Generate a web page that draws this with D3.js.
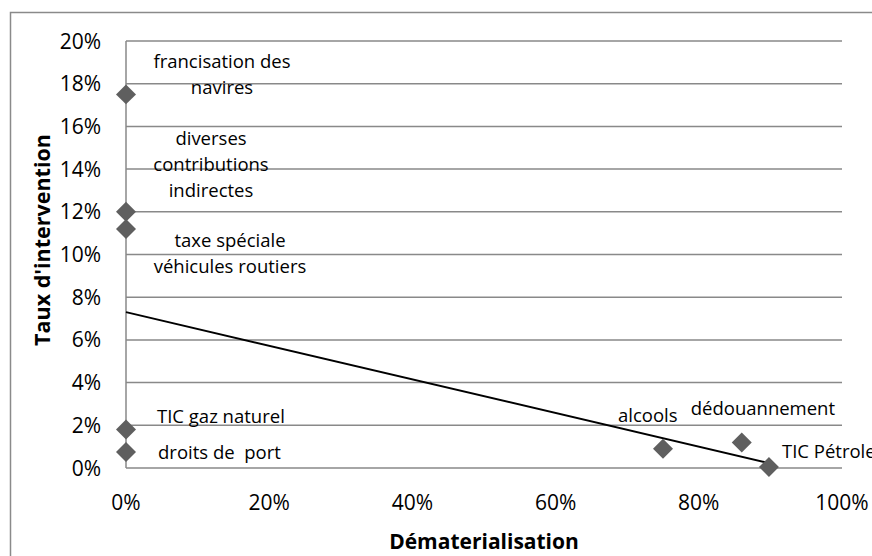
<!DOCTYPE html>
<html>
<head>
<meta charset="utf-8">
<script src="https://cdn.jsdelivr.net/npm/d3@7"></script>
<style>
body{margin:0;background:#fff;}
text{font-family:"Open Sans",sans-serif;fill:#000;white-space:pre;}
</style>
</head>
<body>
<svg id="chart" width="872" height="556"></svg>
<script>
// data
var names=["francisation des|navires","diverses|contributions|indirectes","taxe spéciale|véhicules routiers","TIC gaz naturel","droits de  port","alcools","dédouannement","TIC Pétrole"];
var demat=[0,0,0,0,0,0.75,0.86,0.898];
var taux=[0.175,0.120,0.112,0.018,0.0075,0.009,0.012,0.0005];
var trendX=[0,0.898];
var trendY=[0.073,0.0023];
var xTicks=[0,0.2,0.4,0.6,0.8,1];
var yTicks=[0,0.02,0.04,0.06,0.08,0.1,0.12,0.14,0.16,0.18,0.2];

// label placement (offset from point, anchor)
var labelPos=[
  {dx:96,dy:-26,a:"middle"},
  {dx:85,dy:-67,a:"middle"},
  {dx:104,dy:18,a:"middle"},
  {dx:31,dy:-7,a:"start"},
  {dx:32,dy:7,a:"start"},
  {dx:-45,dy:-27,a:"start"},
  {dx:-51,dy:-27,a:"start"},
  {dx:13,dy:-9,a:"start"}
];

var svg=d3.select("#chart");
var margin={left:126,top:41,right:30,bottom:88};
var width=842-margin.left,height=468-margin.top;

svg.append("rect").attr("x",10.5).attr("y",12.5).attr("width",880).attr("height",580)
  .attr("fill","none").attr("stroke","#8a8a8a").attr("stroke-width",1.5);

var g=svg.append("g").attr("transform","translate("+margin.left+","+margin.top+")");

var x=d3.scaleLinear().domain([0,1]).range([0,width]);
var y=d3.scaleLinear().domain([0,0.2]).range([height,0]);

// gridlines
g.selectAll(".grid").data(yTicks).enter().append("line")
  .attr("x1",0).attr("x2",width)
  .attr("y1",function(d){return y(d);}).attr("y2",function(d){return y(d);})
  .attr("stroke","#898989").attr("stroke-width",1.5);
g.append("line").attr("x1",0).attr("x2",0).attr("y1",0).attr("y2",height)
  .attr("stroke","#898989").attr("stroke-width",1.5);

// tick labels
g.selectAll(".ylab").data(yTicks).enter().append("text")
  .attr("x",-25).attr("y",function(d){return y(d);}).attr("dy","0.36em")
  .attr("text-anchor","end").style("font-size","21px")
  .text(d3.format(".0%"));
g.selectAll(".xlab").data(xTicks).enter().append("text")
  .attr("x",function(d){return x(d);}).attr("y",height+42)
  .attr("text-anchor","middle").style("font-size","21px")
  .text(d3.format(".0%"));

// trendline
var line=d3.line().x(function(d){return x(d[0]);}).y(function(d){return y(d[1]);});
g.append("path").datum(d3.zip(trendX,trendY)).attr("d",line)
  .attr("fill","none").attr("stroke","#000").attr("stroke-width",2);

// points
var pts=d3.range(names.length);
g.selectAll(".pt").data(pts).enter().append("path")
  .attr("d",d3.symbol().type(d3.symbolSquare).size(200))
  .attr("transform",function(i){return "translate("+x(demat[i])+","+y(taux[i])+") rotate(45)";})
  .attr("fill","#5f5f5f");

// labels
g.selectAll(".lab").data(pts).enter().append("text")
  .attr("text-anchor",function(i){return labelPos[i].a;})
  .style("font-size","18.5px")
  .each(function(i){
    var t=d3.select(this),px=x(demat[i])+labelPos[i].dx,py=y(taux[i])+labelPos[i].dy;
    names[i].split("|").forEach(function(s,k){
      t.append("tspan").attr("x",px).attr("y",py+k*26).text(s);
    });
  });

// axis titles
svg.append("text").attr("x",484).attr("y",549).attr("text-anchor","middle")
  .style("font-size","21px").style("font-weight","bold").text("Dématerialisation");
svg.append("text").attr("transform","translate(50,240) rotate(-90)").attr("text-anchor","middle")
  .style("font-size","21.5px").style("font-weight","bold").text("Taux d'intervention");
</script>
</body>
</html>
